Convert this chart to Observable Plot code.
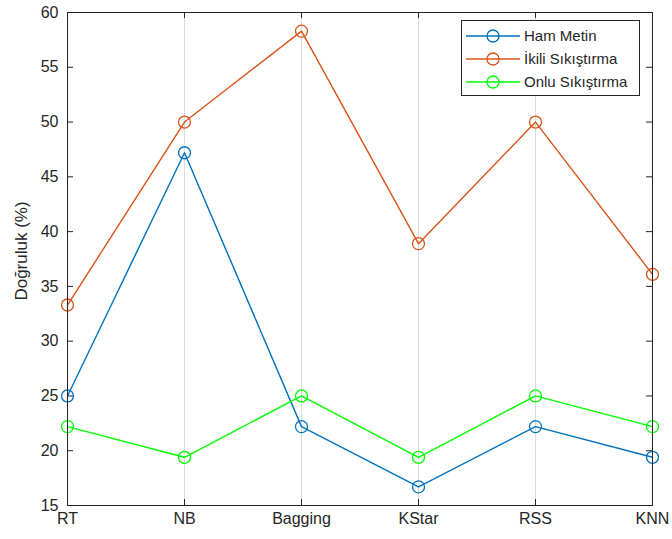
<!DOCTYPE html>
<html><head><meta charset="utf-8">
<script src="https://cdn.jsdelivr.net/npm/d3@7"></script>
<script src="https://cdn.jsdelivr.net/npm/@observablehq/plot@0.6"></script>
<style>
body{margin:0;background:#fff;font-family:"Liberation Sans",Arial,sans-serif}
#wrap{position:relative;width:672px;height:539px}
#legend{position:absolute;left:461px;top:20px;width:179px;height:76px;border:1px solid #262626;background:#fff;box-sizing:border-box;padding-top:3px}
.item{display:flex;align-items:center;height:23px;font-size:15px;color:#262626}
.item svg{margin-left:4px;margin-right:4px}
#ylabel{position:absolute;left:22px;top:251px;transform:translate(-50%,-50%) rotate(-90deg);white-space:nowrap;font-size:17px;color:#262626}
</style></head><body><div id="wrap"></div>
<script>
const categories = ["RT","NB","Bagging","KStar","RSS","KNN"];
const seriesNames = ["Ham Metin","İkili Sıkıştırma","Onlu Sıkıştırma"];
const hamMetin = [25.0,47.2,22.2,16.7,22.2,19.4];
const ikiliSikistirma = [33.3,50.0,58.3,38.9,50.0,36.1];
const onluSikistirma = [22.2,19.4,25.0,19.4,25.0,22.2];
const yTicks = [15,20,25,30,35,40,45,50,55,60];
const colors = ["#0072BD","#D95319","#00FF00"];
const yLabel = "Doğruluk (%)";

const seriesValues = [hamMetin, ikiliSikistirma, onluSikistirma];
const data = [];
seriesNames.forEach((s, i) => categories.forEach((c, j) => data.push({series: s, cat: c, value: seriesValues[i][j]})));

const W = 672, H = 539, mL = 67, mR = 20, mT = 12, mB = 34;
const pw = W - mL - mR, ph = H - mT - mB, tk = 6;
const axisColor = "#262626";

const chart = Plot.plot({
  width: W, height: H,
  marginLeft: mL, marginRight: mR, marginTop: mT, marginBottom: mB,
  style: {fontFamily: '"Liberation Sans", Arial, sans-serif', fontSize: "16px", color: axisColor, background: "#fff"},
  x: {type: "point", domain: categories, padding: 0},
  y: {domain: [15, 60]},
  color: {domain: seriesNames, range: colors},
  marks: [
    Plot.ruleX(categories, {x: d => d, stroke: "#dcdcdc", strokeWidth: 1}),
    Plot.tickY(yTicks, {y: d => d, insetRight: pw - tk, stroke: axisColor}),
    Plot.tickY(yTicks, {y: d => d, insetLeft: pw - tk, stroke: axisColor}),
    Plot.tickX(categories, {x: d => d, insetTop: ph - tk, stroke: axisColor}),
    Plot.tickX(categories, {x: d => d, insetBottom: ph - tk, stroke: axisColor}),
    Plot.line(data, {x: "cat", y: "value", z: "series", stroke: "series", strokeWidth: 1.4}),
    Plot.dot(data, {x: "cat", y: "value", stroke: "series", r: 6, strokeWidth: 1.3, fill: "none"}),
    Plot.frame({stroke: axisColor, strokeWidth: 1}),
    Plot.axisY({ticks: yTicks, tickSize: 0, tickPadding: 9, label: null, fill: axisColor}),
    Plot.axisX({tickSize: 0, tickPadding: 7, label: null, fill: axisColor})
  ]
});
const wrap = document.getElementById("wrap");
wrap.appendChild(chart);

const yl = document.createElement("div");
yl.id = "ylabel";
yl.textContent = yLabel;
wrap.appendChild(yl);

const legend = document.createElement("div");
legend.id = "legend";
seriesNames.forEach((s, i) => {
  const item = document.createElement("div");
  item.className = "item";
  item.innerHTML = `<svg width="54" height="14"><line x1="0" x2="54" y1="7" y2="7" stroke="${colors[i]}" stroke-width="1.4"/><circle cx="27" cy="7" r="6" fill="none" stroke="${colors[i]}" stroke-width="1.3"/></svg><span>${s}</span>`;
  legend.appendChild(item);
});
wrap.appendChild(legend);
</script>
</body></html>
